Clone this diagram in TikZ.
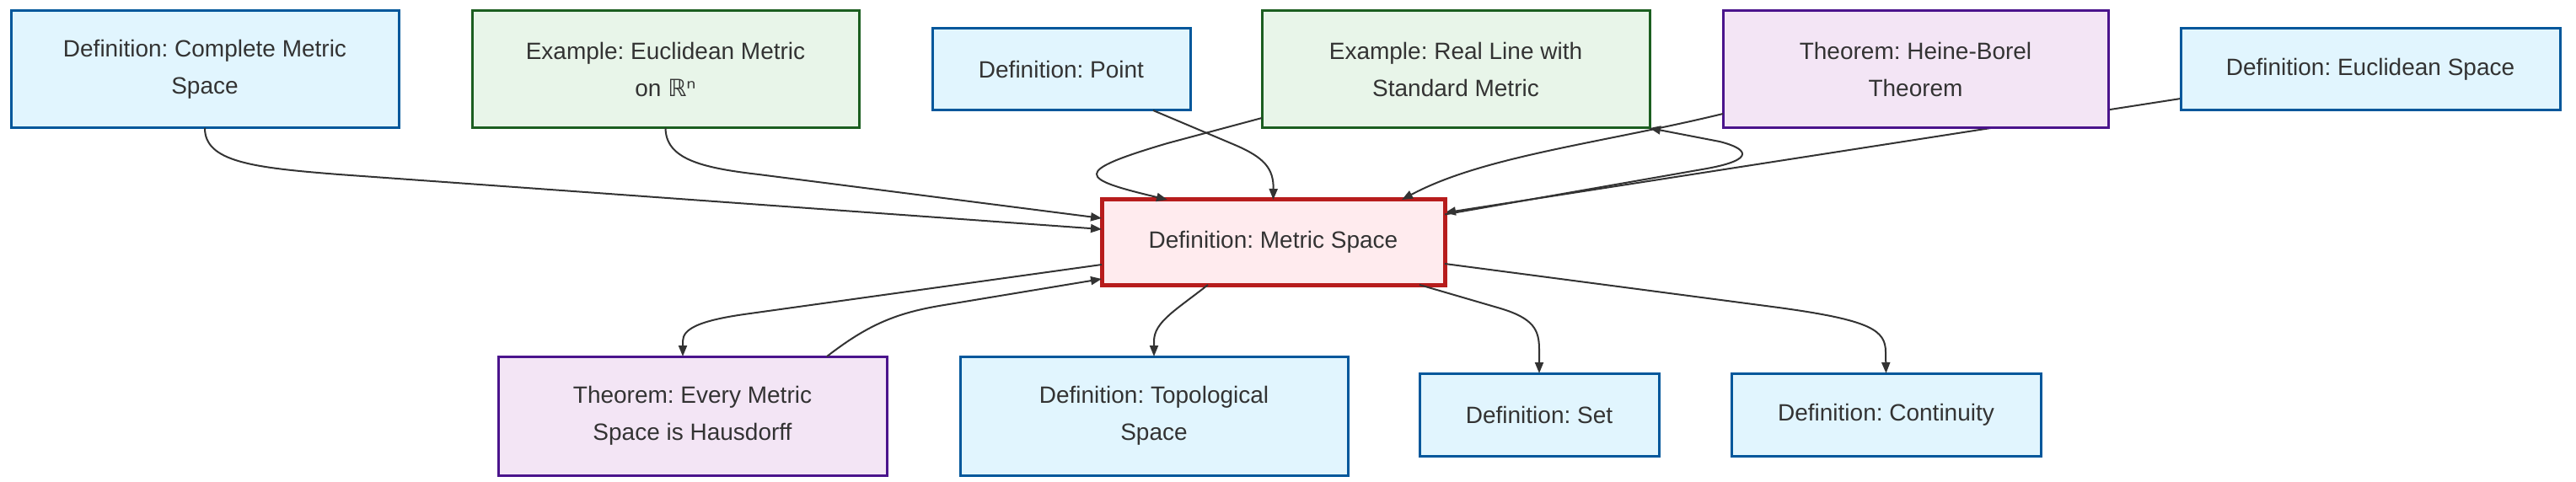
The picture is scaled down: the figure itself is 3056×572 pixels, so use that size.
\documentclass[tikz,border=0pt]{standalone}
\usepackage{fontspec}
\setmainfont{Liberation Sans}
\newfontfamily\dv{DejaVu Sans}
\usetikzlibrary{arrows.meta,calc}
\pgfdeclarelayer{bg}
\pgfsetlayers{bg,main}
\definecolor{defFill}{HTML}{E1F5FE}
\definecolor{defLine}{HTML}{01579B}
\definecolor{exFill}{HTML}{E8F5E9}
\definecolor{exLine}{HTML}{1B5E20}
\definecolor{thFill}{HTML}{F3E5F5}
\definecolor{thLine}{HTML}{4A148C}
\definecolor{msFill}{HTML}{FFEBEE}
\definecolor{msLine}{HTML}{B71C1C}
\definecolor{ink}{HTML}{333333}
\frenchspacing
\begin{document}
\begin{tikzpicture}[x=0.5pt,y=-0.5pt,
  box/.style={draw, line width=1.5pt, inner sep=0pt, outer sep=0pt, align=center,
    text=ink, font=\fontsize{14}{22}\selectfont},
  defbox/.style={box, fill=defFill, draw=defLine},
  exbox/.style={box, fill=exFill, draw=exLine},
  thbox/.style={box, fill=thFill, draw=thLine},
  msbox/.style={box, fill=msFill, draw=msLine, line width=2.5pt},
  link/.style={draw=ink, line width=1pt, line join=round, -{Triangle[length=6.5pt,width=5pt]}},
]
\useasboundingbox (0,0) rectangle (3056,572);

\node[defbox, minimum width=230pt, minimum height=69.5pt] (cms) at (243,82.5) {Definition: Complete Metric\\Space};
\node[exbox, minimum width=229.5pt, minimum height=69.5pt] (eum) at (789.5,82.5) {Example: Euclidean Metric\\on {\dv ℝⁿ}};
\node[defbox, minimum width=153pt, minimum height=48.5pt] (pt) at (1259,82.5) {Definition: Point};
\node[exbox, minimum width=230pt, minimum height=69.5pt] (rl) at (1727,82.5) {Example: Real Line with\\Standard Metric};
\node[thbox, minimum width=228.5pt, minimum height=69.5pt] (hb) at (2272.5,82.5) {Theorem: Heine-Borel\\Theorem};
\node[defbox, minimum width=225pt, minimum height=48.5pt] (es) at (2812,82.5) {Definition: Euclidean Space};
\node[msbox, minimum width=203.5pt, minimum height=50.5pt] (ms) at (1510.5,287.5) {Definition: Metric Space};
\node[thbox, minimum width=230.5pt, minimum height=70.5pt] (hd) at (821.5,493.5) {Theorem: Every Metric\\Space is Hausdorff};
\node[defbox, minimum width=230pt, minimum height=70.5pt] (tp) at (1369,493.5) {Definition: Topological\\Space};
\node[defbox, minimum width=142pt, minimum height=49pt] (set) at (1826,492) {Definition: Set};
\node[defbox, minimum width=183.5pt, minimum height=49pt] (cont) at (2237.5,492) {Definition: Continuity};

\begin{pgfonlayer}{bg}
\draw[link] ($(es.west)+(0,34.5)$) -- ($(ms.east)+(0,-35)$);
\end{pgfonlayer}

% incoming edges
\draw[link] (cms.south) .. controls (243,192) and (300,199) .. (402,207) -- ($(ms.west)+(0,-15.5)$);
\draw[link] (eum.south) .. controls (790,188) and (830,199) .. (900,207) -- ($(ms.west)+(0,-28.5)$);
\draw[link] ($(pt.south)+(109,0)$) -- (1465,172) .. controls (1500,187) and (1511,200) .. (ms.north);
\draw[link] ($(rl.west)+(0,57.5)$) -- (1385,170) .. controls (1270,204) and (1280,212) .. ($(ms.north)+(-125.5,0)$);
\draw[link] ($(hb.west)+(0,52.5)$) .. controls (1900,170) and (1760,185) .. ($(ms.north)+(152.5,0)$);
\draw[link] ($(ms.east)+(0,-33)$) -- (2025,200) .. controls (2085,189) and (2072,176) .. (2040,168) -- (rl.south east);

% outgoing edges
\draw[link] ($(ms.west)+(0,26.5)$) -- (890,372) .. controls (830,380) and (810,390) .. (810,405) -- ($(hd.north)+(-11.5,0)$);
\draw[link] ($(hd.north)+(159.5,0)$) .. controls (1030,385) and (1064,371) .. (1120,362) -- ($(ms.west)+(0,43.5)$);
\draw[link] ($(ms.south)+(-77.5,0)$) .. controls (1395,368) and (1369,382) .. (1369,405) -- (tp.north);
\draw[link] ($(ms.south)+(173.5,0)$) -- (1780,366) .. controls (1820,378) and (1826,392) .. (1826,415) -- (set.north);
\draw[link] ($(ms.east)+(0,25.5)$) -- (2110,365) .. controls (2220,380) and (2237,392) .. (2237,418) -- (cont.north);
\end{tikzpicture}
\end{document}
